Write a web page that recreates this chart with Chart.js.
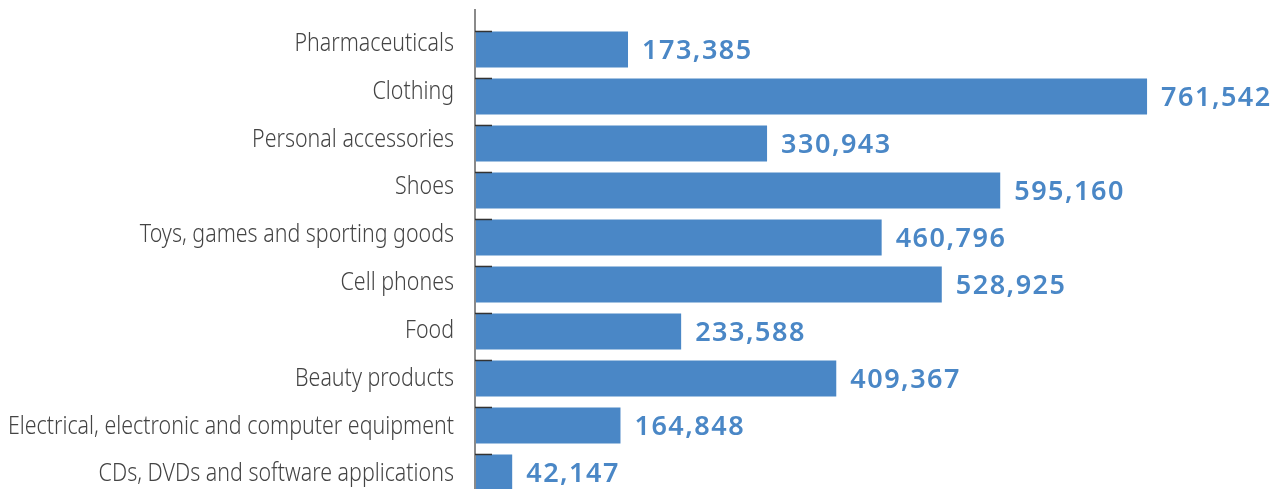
<!DOCTYPE html>
<html>
<head>
<meta charset="utf-8">
<script src="https://cdn.jsdelivr.net/npm/chart.js@4"></script>
<style>
  html, body { margin: 0; padding: 0; background: #fff; overflow: hidden; }
  #wrap { width: 1283px; height: 496px; }
</style>
</head>
<body>
<div id="wrap"><canvas id="grafico"></canvas></div>
<script>
// datos
const categorias = [
  "Pharmaceuticals",
  "Clothing",
  "Personal accessories",
  "Shoes",
  "Toys, games and sporting goods",
  "Cell phones",
  "Food",
  "Beauty products",
  "Electrical, electronic and computer equipment",
  "CDs, DVDs and software applications"
];
const valores = [173385, 761542, 330943, 595160, 460796, 528925, 233588, 409367, 164848, 42147];

const azul = "#4a87c6";

// eje, marcas, categorias y etiquetas de valor
const extras = {
  id: "extras",
  afterDatasetsDraw(chart) {
    const ctx = chart.ctx;
    const area = chart.chartArea;
    const meta = chart.getDatasetMeta(0);
    const escalaY = chart.scales.y;
    const n = categorias.length;

    ctx.save();
    // linea del eje
    ctx.strokeStyle = "#8a8a8a";
    ctx.lineWidth = 2;
    ctx.beginPath();
    ctx.moveTo(area.left, 9);
    ctx.lineTo(area.left, chart.height);
    ctx.stroke();

    // marcas cortas en el borde superior de cada barra
    ctx.strokeStyle = "#333";
    ctx.lineWidth = 1.5;
    meta.data.forEach(bar => {
      const top = bar.y - bar.height / 2;
      ctx.beginPath();
      ctx.moveTo(area.left, top);
      ctx.lineTo(area.left + 17, top);
      ctx.stroke();
    });

    // nombres de categoria (fuente estrecha simulada)
    ctx.fillStyle = "#444";
    ctx.font = "300 26px 'Noto Sans', sans-serif";
    ctx.textAlign = "right";
    ctx.textBaseline = "middle";
    const estrecho = 0.823;
    categorias.forEach((c, i) => {
      const y = escalaY.getPixelForValue(i) + 1.5 - 7.5 * (1 - i / (n - 1));
      ctx.save();
      ctx.translate(area.left - 21, y);
      ctx.scale(estrecho, 1);
      ctx.fillText(c, 0, 0);
      ctx.restore();
    });

    // etiquetas de valor
    ctx.fillStyle = azul;
    ctx.font = "600 27px 'Noto Sans', sans-serif";
    ctx.letterSpacing = "1.5px";
    ctx.textAlign = "left";
    meta.data.forEach((bar, i) => {
      ctx.fillText(valores[i].toLocaleString("en-US"), bar.x + 14, bar.y + 2);
    });
    ctx.restore();
  }
};

new Chart(document.getElementById("grafico"), {
  type: "bar",
  data: {
    labels: categorias,
    datasets: [{
      data: valores,
      backgroundColor: azul,
      barPercentage: 0.767,
      categoryPercentage: 1
    }]
  },
  options: {
    indexAxis: "y",
    responsive: true,
    maintainAspectRatio: false,
    animation: false,
    layout: { padding: { top: 26, right: 102, left: 0, bottom: 0 } },
    plugins: {
      legend: { display: false },
      tooltip: { enabled: false }
    },
    scales: {
      x: {
        display: false,
        min: 0,
        max: 800000
      },
      y: {
        afterFit(scale) {
          scale.width = 475;
          scale.paddingTop = 0;
          scale.paddingBottom = 0;
        },
        border: { display: false },
        grid: { display: false, drawTicks: false },
        ticks: { display: false }
      }
    }
  },
  plugins: [extras]
});
</script>
</body>
</html>
